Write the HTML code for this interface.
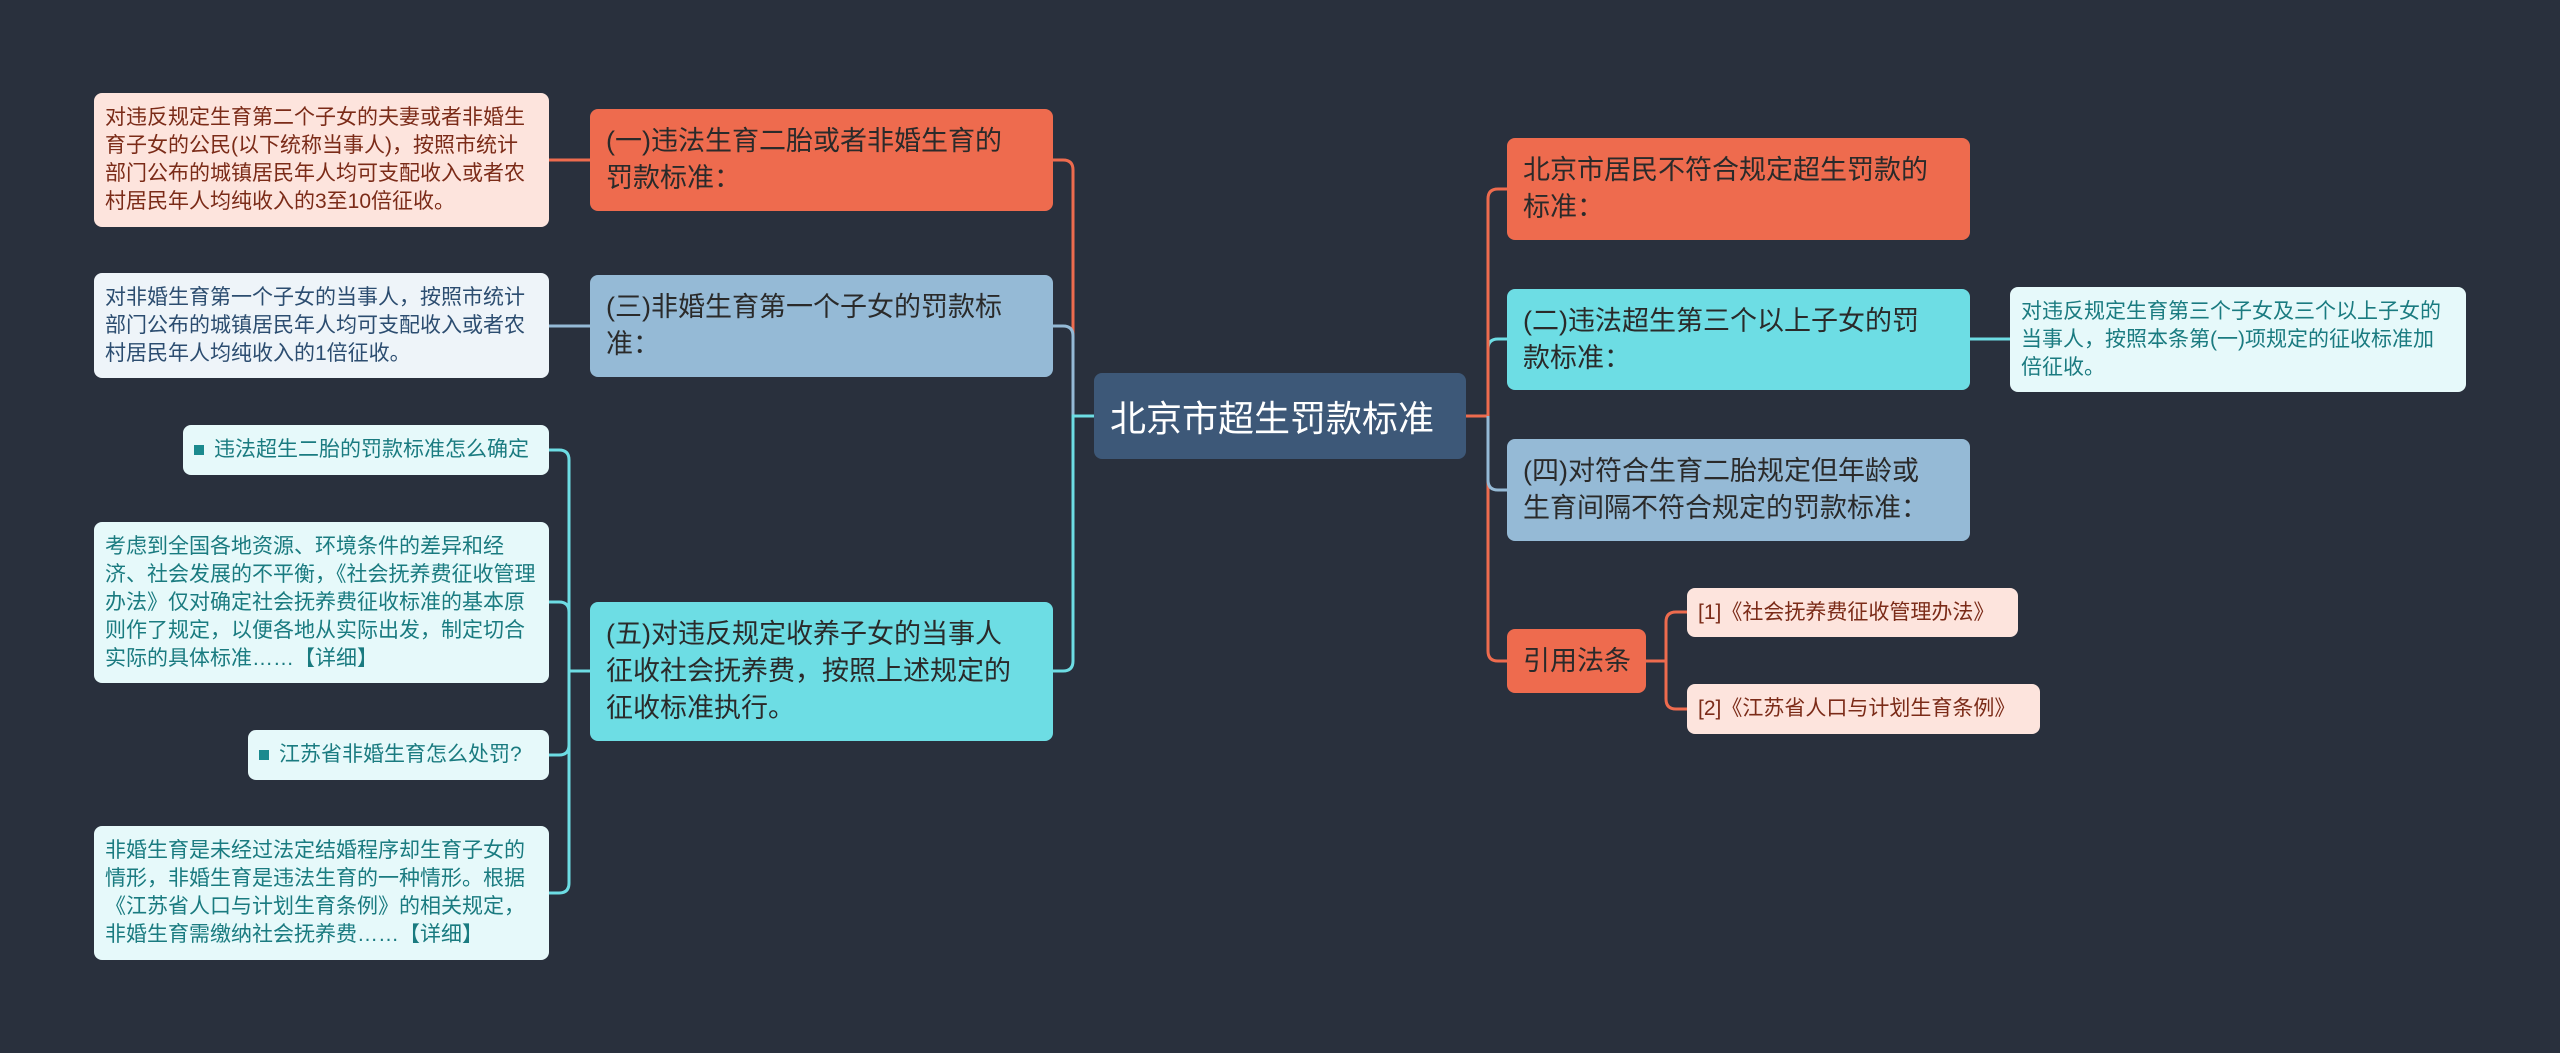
<!DOCTYPE html>
<html><head><meta charset="utf-8"><style>
html,body{margin:0;padding:0}
body{width:2560px;height:1053px;background:#29303d;position:relative;overflow:hidden;font-family:"Liberation Sans","Noto Sans CJK SC",sans-serif}
.n{position:absolute;box-sizing:border-box;border-radius:8px;display:flex;align-items:center}
.b{font-size:27px;line-height:37px;padding:0 38px 0 16px;color:#2a2a2a}
.l{font-size:21px;line-height:28px;padding:0 11px 0 11px}
.or{background:#ee6b4e}
.bl{background:#95bad6}
.cy{background:#6ddde4}
.pk{background:#fde4dd;color:#7b2b18}
.lb{background:#eef4f9;color:#2c4d70}
.lc{background:#e6f9fa;color:#1a7b80}
.dot{display:inline-block;width:10px;height:10px;background:#1a8a8e;margin-right:10px;vertical-align:middle}
svg{position:absolute;left:0;top:0}
</style></head><body>
<svg width="2560" height="1053" fill="none" stroke-width="3">
<path d="M1094 416H1073V170Q1073 160 1063 160H1053" stroke="#ee6b4e"/>
<path d="M1094 416H1073V336Q1073 326 1063 326H1053" stroke="#95bad6"/>
<path d="M1094 416H1073V661Q1073 671 1063 671H1053" stroke="#6ddde4"/>
<path d="M549 160H590" stroke="#ee6b4e"/>
<path d="M549 326H590" stroke="#95bad6"/>
<g stroke="#6ddde4">
<path d="M590 671H569V460Q569 450 559 450H549"/>
<path d="M569 612Q569 602 559 602H549"/>
<path d="M569 671V745Q569 755 559 755H549"/>
<path d="M569 740V883Q569 893 559 893H549"/>
<path d="M1970 339H2010"/>
<path d="M1466 416H1488V349Q1488 339 1498 339H1507"/>
</g>
<path d="M1466 416H1488V199Q1488 189 1498 189H1507" stroke="#ee6b4e"/>
<path d="M1466 416H1488V651Q1488 661 1498 661H1507" stroke="#ee6b4e"/>
<path d="M1488 416V480Q1488 490 1498 490H1507" stroke="#95bad6"/>
<g stroke="#ee6b4e">
<path d="M1646 661H1666V622Q1666 612 1676 612H1687"/>
<path d="M1666 661V699Q1666 709 1676 709H1687"/>
</g>
</svg>
<div class="n" style="left:1094px;top:373px;width:372px;height:86px;background:#3d5878;color:#fff;font-size:36px;padding-left:16px">北京市超生罚款标准</div>

<div class="n b or" style="left:590px;top:109px;width:463px;height:102px">(一)违法生育二胎或者非婚生育的罚款标准：</div>
<div class="n b bl" style="left:590px;top:275px;width:463px;height:102px">(三)非婚生育第一个子女的罚款标准：</div>
<div class="n b cy" style="left:590px;top:602px;width:463px;height:139px">(五)对违反规定收养子女的当事人征收社会抚养费，按照上述规定的征收标准执行。</div>

<div class="n l pk" style="left:94px;top:93px;width:455px;height:134px">对违反规定生育第二个子女的夫妻或者非婚生育子女的公民(以下统称当事人)，按照市统计部门公布的城镇居民年人均可支配收入或者农村居民年人均纯收入的3至10倍征收。</div>
<div class="n l lb" style="left:94px;top:273px;width:455px;height:105px">对非婚生育第一个子女的当事人，按照市统计部门公布的城镇居民年人均可支配收入或者农村居民年人均纯收入的1倍征收。</div>
<div class="n l lc" style="left:183px;top:425px;width:366px;height:50px"><span class="dot"></span>违法超生二胎的罚款标准怎么确定</div>
<div class="n l lc" style="left:94px;top:522px;width:455px;height:161px;padding-right:5px">考虑到全国各地资源、环境条件的差异和经济、社会发展的不平衡，《社会抚养费征收管理办法》仅对确定社会抚养费征收标准的基本原则作了规定，以便各地从实际出发，制定切合实际的具体标准……【详细】</div>
<div class="n l lc" style="left:248px;top:730px;width:301px;height:50px"><span class="dot"></span>江苏省非婚生育怎么处罚?</div>
<div class="n l lc" style="left:94px;top:826px;width:455px;height:134px">非婚生育是未经过法定结婚程序却生育子女的情形，非婚生育是违法生育的一种情形。根据《江苏省人口与计划生育条例》的相关规定，非婚生育需缴纳社会抚养费……【详细】</div>

<div class="n b or" style="left:1507px;top:138px;width:463px;height:102px">北京市居民不符合规定超生罚款的标准：</div>
<div class="n b cy" style="left:1507px;top:289px;width:463px;height:101px">(二)违法超生第三个以上子女的罚款标准：</div>
<div class="n b bl" style="left:1507px;top:439px;width:463px;height:102px">(四)对符合生育二胎规定但年龄或生育间隔不符合规定的罚款标准：</div>
<div class="n b or" style="left:1507px;top:629px;width:139px;height:64px;white-space:nowrap;padding-right:0">引用法条</div>
<div class="n l lc" style="left:2010px;top:287px;width:456px;height:105px;padding-right:14px">对违反规定生育第三个子女及三个以上子女的当事人，按照本条第(一)项规定的征收标准加倍征收。</div>
<div class="n l pk" style="left:1687px;top:588px;width:331px;height:49px">[1]《社会抚养费征收管理办法》</div>
<div class="n l pk" style="left:1687px;top:684px;width:353px;height:50px">[2]《江苏省人口与计划生育条例》</div>
</body></html>
